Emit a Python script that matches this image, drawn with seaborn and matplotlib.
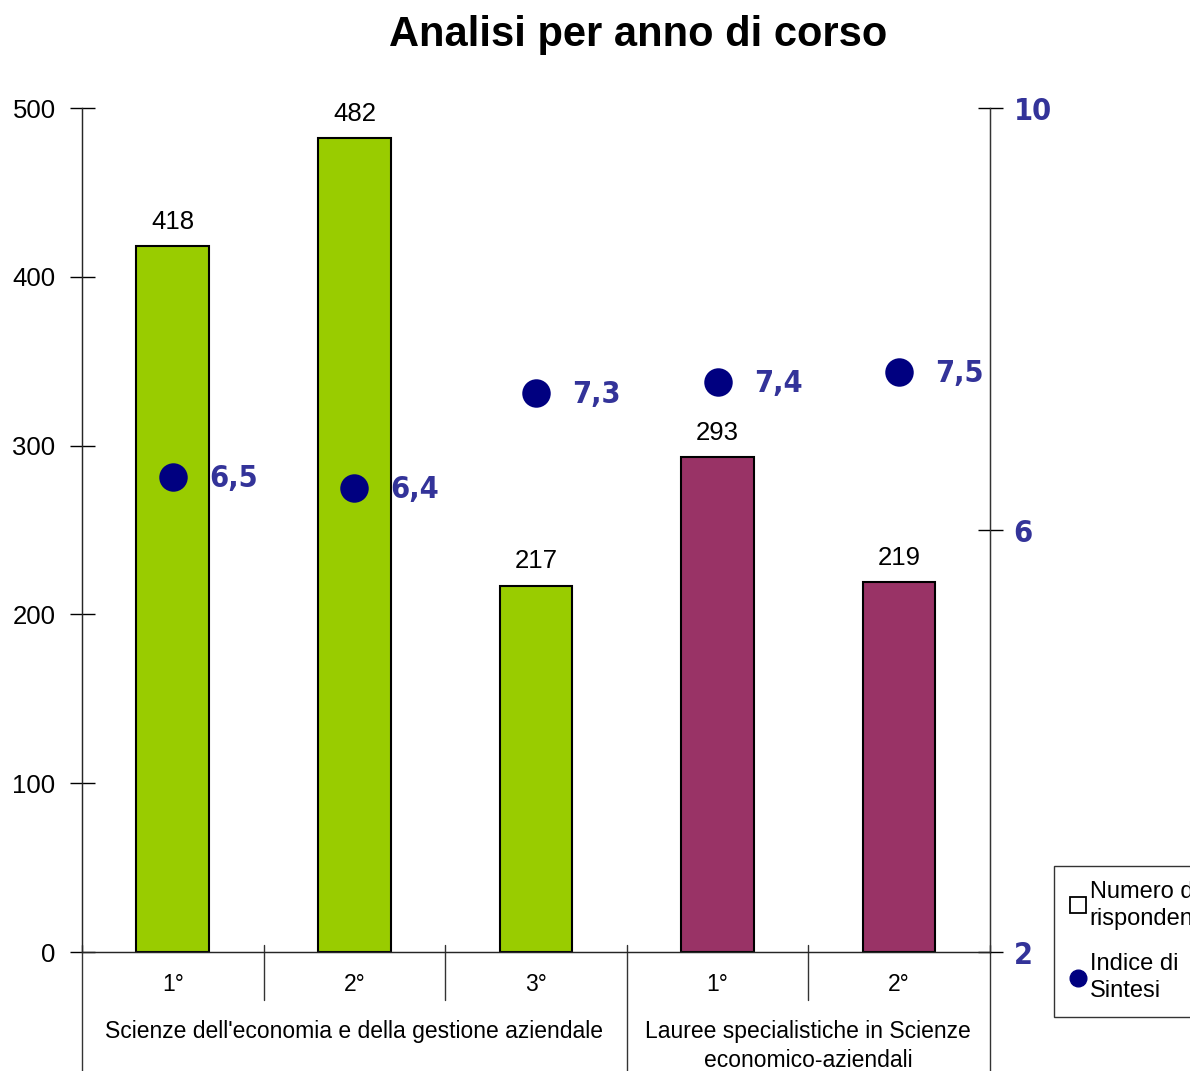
import matplotlib
matplotlib.use("Agg")
import matplotlib.pyplot as plt
import matplotlib.transforms as mtransforms
from matplotlib.lines import Line2D
import seaborn as sns
import pandas as pd

# Chart data
years = ["1°", "2°", "3°", "1°", "2°"]
groups = ["Scienze dell'economia e della gestione aziendale"] * 3 + \
         ["Lauree specialistiche in Scienze\neconomico-aziendali"] * 2
respondents = [418, 482, 217, 293, 219]
synth_index = [6.5, 6.4, 7.3, 7.4, 7.5]
index_labels = ["6,5", "6,4", "7,3", "7,4", "7,5"]

GREEN = "#99CC00"
PURPLE = "#993366"
NAVY = "#000080"
LABEL_BLUE = "#333399"

sns.set_style("white")
plt.rcParams["font.family"] = ["Liberation Sans", "DejaVu Sans"]
plt.rcParams["text.color"] = "black"
plt.rcParams["xtick.color"] = "black"
plt.rcParams["ytick.color"] = "black"
NARROW = ["DejaVu Sans"]

df = pd.DataFrame({
    "pos": list(range(len(years))),
    "year": years,
    "group": groups,
    "respondents": respondents,
    "index": synth_index,
})

fig = plt.figure(figsize=(11.9, 10.71), dpi=100)
ax = fig.add_axes([0.0689, 0.1111, 0.763, 0.788])

sns.barplot(data=df, x="pos", y="respondents", hue="group",
            palette=[GREEN, PURPLE], dodge=False, width=0.4, saturation=1,
            edgecolor="black", linewidth=1.5, legend=False, ax=ax,
            native_scale=True)
ax.set_xlim(-0.5, len(years) - 0.5)
ax.set_ylim(0, 500)
ax.set_yticks([0, 100, 200, 300, 400, 500])
ax.tick_params(axis="y", direction="inout", length=18, width=1, labelsize=18.5,
               pad=10, colors="black")
ax.set_xticks([])
ax.set_xlabel("")
ax.set_ylabel("")
ax.spines["top"].set_visible(False)
for s in ["left", "right", "bottom"]:
    ax.spines[s].set_linewidth(1)
    ax.spines[s].set_color("#333333")

# bar value labels
for i, v in enumerate(respondents):
    ax.annotate(str(v), (i, v), xytext=(0, 9), textcoords="offset points",
                ha="center", va="bottom", fontsize=18.5)

# secondary axis with the synthesis index
ax2 = ax.twinx()
sns.scatterplot(data=df, x="pos", y="index", color=NAVY, s=360,
                edgecolor=NAVY, ax=ax2, zorder=5)
ax2.set_ylim(2, 10)
ax2.set_yticks([2, 6, 10])
ax2.set_xlim(-0.5, len(years) - 0.5)
ax2.tick_params(axis="y", direction="inout", length=18, width=1, pad=8)
for lbl in ax2.get_yticklabels():
    lbl.set_fontfamily(NARROW)
    lbl.set_fontstretch("condensed")
    lbl.set_fontweight("bold")
    lbl.set_fontsize(22)
    lbl.set_color(LABEL_BLUE)
ax2.set_ylabel("")
ax2.set_xlabel("")
ax2.spines["top"].set_visible(False)
ax2.spines["right"].set_color("#333333")
for i, (v, t) in enumerate(zip(synth_index, index_labels)):
    ax2.annotate(t, (i, v), xytext=(26, -1), textcoords="offset points",
                 ha="left", va="center", fontsize=22, fontweight="bold",
                 fontstretch="condensed", color=LABEL_BLUE, family=NARROW)

# multi-level category axis
trans = mtransforms.blended_transform_factory(ax.transData, ax.transAxes)
n = len(years)
bounds = [i - 0.5 for i in range(n + 1)]
group_edges = [0]
for i in range(1, n):
    if groups[i] != groups[i - 1]:
        group_edges.append(i)
group_edges.append(n)
full_lines = [e - 0.5 for e in group_edges]
for b in bounds:
    low = -0.145 if b in full_lines else -0.057
    ax.plot([b, b], [0.008, low], transform=trans, color="#333333",
            lw=1, clip_on=False)
for i, y in enumerate(years):
    ax.text(i, -0.038, y, transform=trans, ha="center", va="center", fontsize=16.5)
for a, b in zip(group_edges[:-1], group_edges[1:]):
    ax.text((a + b - 1) / 2, -0.081, groups[a], transform=trans, ha="center",
            va="top", fontsize=16.5, linespacing=1.3)

fig.suptitle("Analisi per anno di corso", x=0.536, y=0.986, fontsize=30,
             fontweight="bold")

handles = [
    Line2D([], [], marker="s", linestyle="none", markersize=11,
           markerfacecolor="white", markeredgecolor="black", markeredgewidth=1.3),
    Line2D([], [], marker="o", linestyle="none", markersize=12,
           markerfacecolor=NAVY, markeredgecolor=NAVY),
]
leg = fig.legend(handles, ["Numero di\nrispondenti", "Indice di\nSintesi"],
                 loc="upper left", bbox_to_anchor=(0.876, 0.202),
                 fontsize=17, frameon=True, fancybox=False, edgecolor="black",
                 handletextpad=0.1, handlelength=0.8, labelspacing=1.0,
                 borderpad=0.6)
leg.get_frame().set_linewidth(1)
for txt in leg.get_texts():
    txt.set_linespacing(1.3)

fig.savefig("out.png", dpi=100)
